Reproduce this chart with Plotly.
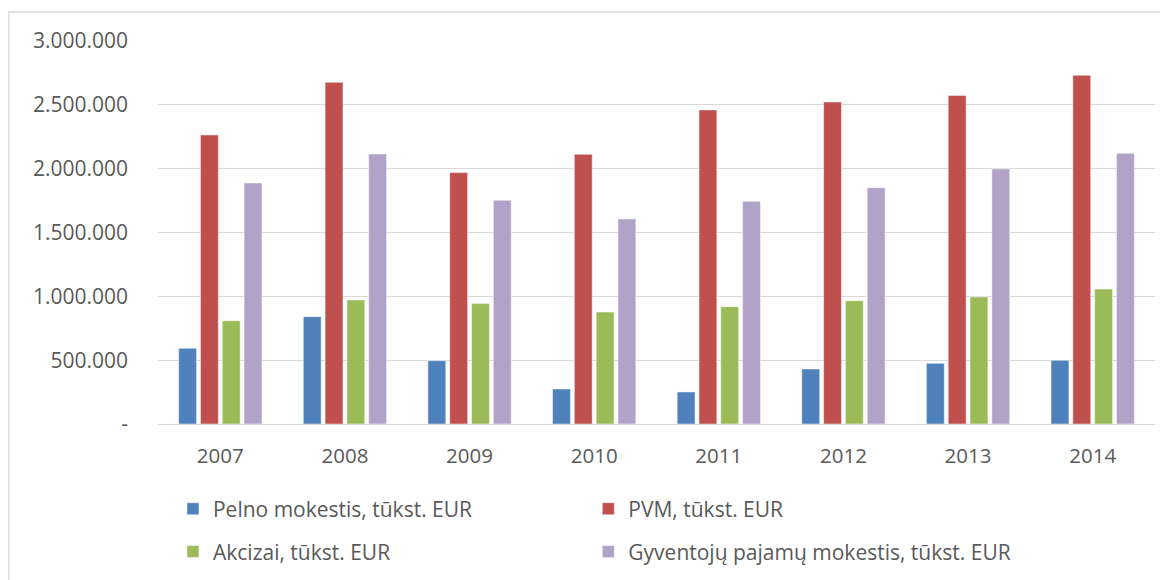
import plotly.graph_objects as go

years = ["2007", "2008", "2009", "2010", "2011", "2012", "2013", "2014"]

pelno = [593000, 841000, 496000, 274000, 251000, 431000, 475000, 499000]
pvm = [2264000, 2676000, 1969000, 2112000, 2460000, 2522000, 2574000, 2731000]
akcizai = [809000, 971000, 943000, 877000, 919000, 966000, 995000, 1057000]
gpm = [1888000, 2115000, 1752000, 1606000, 1744000, 1851000, 1997000, 2120000]

y_tickvals = [0, 500000, 1000000, 1500000, 2000000, 2500000, 3000000]
y_ticktext = ["-", "500.000", "1.000.000", "1.500.000", "2.000.000", "2.500.000", "3.000.000"]

FONT = "Open Sans, Liberation Sans, sans-serif"
TXT = "#595959"
GRID = "#d9d9d9"

fig = go.Figure()
for vals, name, color, leg in [
    (pelno, "Pelno mokestis, tūkst. EUR", "#4F81BD", "legend"),
    (pvm, "PVM, tūkst. EUR", "#C0504D", "legend2"),
    (akcizai, "Akcizai, tūkst. EUR", "#9BBB59", "legend3"),
    (gpm, "Gyventojų pajamų mokestis, tūkst. EUR", "#B2A2C7", "legend4"),
]:
    fig.add_trace(go.Bar(
        x=years, y=vals, name=name, legend=leg, showlegend=True,
        marker=dict(color=color, line=dict(width=0.8, color="rgba(255,255,255,0.6)")),
    ))

legend_style = dict(
    orientation="h", xanchor="left", yanchor="middle", yref="container",
    itemwidth=30, font=dict(family=FONT, size=21, color=TXT),
    bgcolor="rgba(0,0,0,0)", visible=True,
)

# one legend per entry, laid out as a 2x2 grid under the plot
fig.update_layout(
    width=1160, height=572,
    margin=dict(l=150, r=13, t=33, b=156),
    paper_bgcolor="white", plot_bgcolor="white",
    showlegend=True,
    barmode="group", bargap=0.3, bargroupgap=0.18,
    font=dict(family=FONT, size=21, color=TXT),
    legend=dict(x=0.015, y=0.124, **legend_style),
    legend2=dict(x=0.4316, y=0.124, **legend_style),
    legend3=dict(x=0.015, y=0.049, **legend_style),
    legend4=dict(x=0.4316, y=0.049, **legend_style),
    xaxis=dict(
        showgrid=False, showline=True, linecolor=GRID, linewidth=1.3,
        ticks="", ticklabelstandoff=13,
        tickfont=dict(family=FONT, size=20.5, color=TXT),
    ),
    yaxis=dict(
        range=[0, 3000000], tickvals=y_tickvals, ticktext=y_ticktext,
        showgrid=True, gridcolor=GRID, gridwidth=1.3, zeroline=False,
        showline=False, ticks="", ticklabelstandoff=29,
        tickfont=dict(family=FONT, size=21, color=TXT),
    ),
    shapes=[dict(
        type="rect", xref="paper", yref="paper",
        x0=-0.1496, x1=1.03, y0=-0.45, y1=1.0757,
        line=dict(color=GRID, width=1.3), fillcolor="rgba(0,0,0,0)", layer="below",
    )],
)

fig.write_html("out.html")
